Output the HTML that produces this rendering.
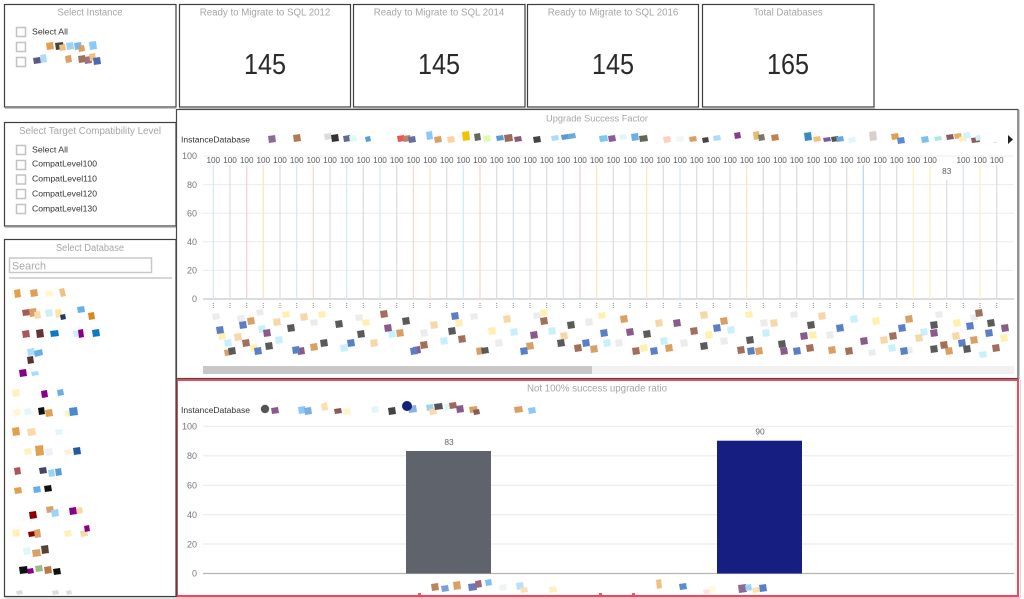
<!DOCTYPE html>
<html><head><meta charset="utf-8"><style>
html,body{margin:0;padding:0;background:#fff;}
svg{display:block;font-family:"Liberation Sans",Arial,sans-serif;}
</style></head><body>
<svg width="1024" height="599" viewBox="0 0 1024 599" xmlns="http://www.w3.org/2000/svg">
<rect width="1024" height="599" fill="#fff"/>

<!-- ===== Left panels ===== -->
<g fill="#fff" stroke="#3e3e3e" stroke-width="1.2">
<rect x="4.5" y="4.5" width="171.5" height="102.5"/>
<rect x="4.5" y="122.5" width="171.5" height="103.5"/>
<rect x="4.5" y="239.5" width="171.5" height="357"/>
</g>
<g stroke="#c4c4c4" stroke-width="1"><line x1="5" y1="108.5" x2="176" y2="108.5"/><line x1="5" y1="227.5" x2="176" y2="227.5"/><line x1="5" y1="598" x2="176" y2="598"/></g>

<text x="90" y="15.5" font-size="9.7" fill="#a6a6a6" text-anchor="middle" textLength="65" lengthAdjust="spacingAndGlyphs">Select Instance</text>
<g fill="#fff" stroke="#c2c2c2" stroke-width="1.5">
<rect x="16.5" y="27.5" width="9" height="9"/><rect x="16.5" y="42.5" width="9" height="9"/><rect x="16.5" y="57.5" width="9" height="9"/>
</g>
<text x="32" y="34.5" font-size="8.6" fill="#333" textLength="36" lengthAdjust="spacingAndGlyphs">Select All</text>

<text x="90" y="134" font-size="9.7" fill="#a6a6a6" text-anchor="middle" textLength="142" lengthAdjust="spacingAndGlyphs">Select Target Compatibility Level</text>
<g fill="#fff" stroke="#c2c2c2" stroke-width="1.5">
<rect x="16.5" y="145.5" width="9" height="9"/><rect x="16.5" y="160.5" width="9" height="9"/><rect x="16.5" y="175" width="9" height="9"/><rect x="16.5" y="189.5" width="9" height="9"/><rect x="16.5" y="204.5" width="9" height="9"/>
</g>
<g font-size="8.6" fill="#333">
<text x="32" y="152.3" textLength="36" lengthAdjust="spacingAndGlyphs">Select All</text>
<text x="32" y="166.7" textLength="65" lengthAdjust="spacingAndGlyphs">CompatLevel100</text>
<text x="32" y="181.3" textLength="65" lengthAdjust="spacingAndGlyphs">CompatLevel110</text>
<text x="32" y="196.3" textLength="65" lengthAdjust="spacingAndGlyphs">CompatLevel120</text>
<text x="32" y="211.7" textLength="65" lengthAdjust="spacingAndGlyphs">CompatLevel130</text>
</g>

<text x="90" y="251" font-size="9.7" fill="#a6a6a6" text-anchor="middle" textLength="68" lengthAdjust="spacingAndGlyphs">Select Database</text>
<rect x="9.5" y="258" width="142" height="14.5" fill="#fff" stroke="#c8c8c8" stroke-width="1.5"/>
<text x="12" y="269.5" font-size="11" fill="#a8a8a8" textLength="34" lengthAdjust="spacingAndGlyphs">Search</text>
<line x1="9" y1="278" x2="172" y2="278" stroke="#c8c8c8" stroke-width="1.5"/>

<!-- instance blobs -->
<g>
<path fill="#e0a050" d="M46 43l7-1 1 7-7 1z"/><path fill="#444" d="M55 43l8-1 1 7-8 1z"/><path fill="#f0c080" d="M59 45l6-1 1 6-6 1z"/><path fill="#9cd3f5" d="M66 43l7-1 1 7-7 1z"/><path fill="#7bb8f0" d="M74 43l7-1 1 7-7 1z"/><path fill="#d9a066" d="M78 46l6-1 1 6-6 1z"/><path fill="#8cc8f5" d="M89 42l7-1 1 8-7 1z"/>
<path fill="#5a5a8a" d="M33 58l7-1 1 6-7 1z"/><path fill="#acdcf8" d="M40 55l6-1 1 8-6 1z"/><path fill="#d9a066" d="M65 56l6-1 1 7-6 1z"/><path fill="#a0705a" d="M78 56l7-1 1 7-7 1z"/><path fill="#a07080" d="M84 57l7-1 1 7-7 1z"/><path fill="#f0c080" d="M89 54l6-1 1 7-6 1z"/><path fill="#4a6ab0" d="M93 58l7-1 1 7-7 1z"/>
</g>

<!-- database list blobs -->
<g>
<path fill="#e0a050" d="M14 290l6-1 1 8-6 1z"/><path fill="#e0a050" d="M30 290l7-1 1 7-7 1z"/><path fill="#fff6d0" d="M45 291l7-1 1 6-7 1z"/><path fill="#f0c080" d="M59 289l5-1 2 8-5 1z"/>
<path fill="#a85858" d="M22 310l8-1 1 6-8 1z"/><path fill="#d9a066" d="M29 309l7-1 1 8-7 1z"/><path fill="#fdd8a8" d="M34 312l6-1 1 7-6 1z"/><path fill="#cdeefa" d="M45 310l7-1 1 7-7 1z"/><path fill="#ffe3a0" d="M55 310l6-1 1 8-6 1z"/><path fill="#233a6a" d="M60 315l5-1 1 5-5 1z"/><path fill="#6aaee8" d="M77 307l7-1 1 6-7 1z"/><path fill="#d08a20" d="M88 313l6-1 1 7-6 1z"/>
<path fill="#a85858" d="M22 331l7-1 1 7-7 1z"/><path fill="#633" d="M36 330l7-1 1 8-7 1z"/><path fill="#0a7bc0" d="M50 331l8-1 1 6-8 1z"/><path fill="#cdeefa" d="M73 331l7-1 1 6-7 1z"/><path fill="#808" d="M78 330l5-1 1 8-5 1z"/><path fill="#0a7bc0" d="M92 330l7-1 1 7-7 1z"/>
<path fill="#acdcf8" d="M27 349l7-1 1 7-7 1z"/><path fill="#6aaee8" d="M34 351l8-2 1 6-8 2z"/><path fill="#533" d="M27 357l6-1 1 7-6 1z"/>
<path fill="#808" d="M19 370l7-1 1 7-7 1z"/><path fill="#acdcf8" d="M31 372l7-1 1 4-7 1z"/>
<path fill="#fff2b8" d="M12 390l7-1 1 7-7 1z"/><path fill="#808" d="M41 391l6-1 1 7-6 1z"/><path fill="#6aaee8" d="M57 390l6-1 1 6-6 1z"/>
<path fill="#fff6d0" d="M13 410l7-1 1 6-7 1z"/><path fill="#e0f6fb" d="M24 409l7-1 1 6-7 1z"/><path fill="#111" d="M38 408l6-1 1 7-6 1z"/><path fill="#e0a050" d="M45 410l7-1 1 7-7 1z"/><path fill="#fff2b8" d="M65 411l6-1 1 6-6 1z"/><path fill="#4a8ad0" d="M69 408l8-1 1 8-8 1z"/>
<path fill="#e0a050" d="M12 428l7-1 1 8-7 1z"/><path fill="#fdd8a8" d="M27 429l8-1 1 7-8 1z"/><path fill="#dff6fb" d="M55 430l7-1 1 5-7 1z"/>
<path fill="#fff2b8" d="M24 449l7-1 1 6-7 1z"/><path fill="#e0a050" d="M35 446l8-1 1 10-8 1z"/><path fill="#eef0f6" d="M45 449l7-1 1 7-7 1z"/><path fill="#feeedd" d="M64 450l7-1 1 5-7 1z"/><path fill="#235aa0" d="M73 448l7-1 1 7-7 1z"/>
<path fill="#a85858" d="M14 468l6-1 1 7-6 1z"/><path fill="#446" d="M39 468l7-1 1 6-7 1z"/><path fill="#9cd3f5" d="M48 470l6-1 1 7-6 1z"/><path fill="#5b9bd5" d="M55 469l6-1 1 7-6 1z"/>
<path fill="#e0a050" d="M14 488l7-1 1 6-7 1z"/><path fill="#6aaee8" d="M33 487l7-1 1 6-7 1z"/><path fill="#111" d="M44 486l7-1 1 6-7 1z"/>
<path fill="#800" d="M29 512l7-1 1 7-7 1z"/><path fill="#d9a066" d="M46 507l7-1 1 6-7 1z"/><path fill="#9cd3f5" d="M51 510l7-1 1 7-7 1z"/><path fill="#808" d="M69 508l7-1 1 7-7 1z"/><path fill="#f5d7a8" d="M76 508l6-1 1 6-6 1z"/>
<path fill="#fff2b8" d="M12 530l7-1 1 7-7 1z"/><path fill="#800" d="M28 532l7-1 1 5-7 1z"/><path fill="#d9a066" d="M34 530l6-1 1 8-6 1z"/><path fill="#fff2b8" d="M64 531l7-1 1 6-7 1z"/><path fill="#f5d7a8" d="M80 531l7-1 1 6-7 1z"/><path fill="#808" d="M84 526l5-1 1 6-5 1z"/>
<path fill="#dff6fb" d="M23 548l7-1 1 7-7 1z"/><path fill="#d9a066" d="M32 550l8-1 1 7-8 1z"/><path fill="#543" d="M41 546l7-1 1 8-7 1z"/>
<path fill="#111" d="M19 567l8-1 1 7-8 1z"/><path fill="#808" d="M27 569l6-1 1 5-6 1z"/><path fill="#9b8" d="M35 566l7-1 1 6-7 1z"/><path fill="#b87a4a" d="M44 567l7-1 1 7-7 1z"/><path fill="#111" d="M53 569l7-1 1 6-7 1z"/>
<path fill="#ddd" d="M16 591l6-1 1 4-6 1z"/><path fill="#ddd" d="M52 591l6-1 1 4-6 1z"/><path fill="#ddd" d="M66 591l5-1 1 4-5 1z"/>
</g>

<!-- ===== KPI cards ===== -->
<g fill="#fff" stroke="#3e3e3e" stroke-width="1.2">
<rect x="179.5" y="4.5" width="171" height="102.5"/>
<rect x="353.5" y="4.5" width="171.5" height="102.5"/>
<rect x="527.5" y="4.5" width="171" height="102.5"/>
<rect x="702.5" y="4.5" width="171.5" height="102.5"/>
</g>
<line x1="179" y1="108.5" x2="875" y2="108.5" stroke="#c4c4c4" stroke-width="1"/>
<g font-size="9.7" fill="#a6a6a6" text-anchor="middle">
<text x="265" y="15.5">Ready to Migrate to SQL 2012</text>
<text x="439" y="15.5">Ready to Migrate to SQL 2014</text>
<text x="613" y="15.5">Ready to Migrate to SQL 2016</text>
<text x="788" y="15.5">Total Databases</text>
</g>
<g font-size="29" fill="#2a2a2a" text-anchor="middle">
<text x="265" y="74" textLength="42" lengthAdjust="spacingAndGlyphs">145</text>
<text x="439" y="74" textLength="42" lengthAdjust="spacingAndGlyphs">145</text>
<text x="613" y="74" textLength="42" lengthAdjust="spacingAndGlyphs">145</text>
<text x="788" y="74" textLength="42" lengthAdjust="spacingAndGlyphs">165</text>
</g>

<!-- ===== Upgrade Success Factor chart ===== -->
<rect x="176.5" y="109.5" width="841.5" height="269" fill="#fff" stroke="#4a4a4a" stroke-width="1.2"/>
<line x1="1019.5" y1="110" x2="1019.5" y2="379" stroke="#c8c8c8" stroke-width="1"/>
<text x="597" y="121.5" font-size="9.6" fill="#a6a6a6" text-anchor="middle" textLength="102" lengthAdjust="spacingAndGlyphs">Upgrade Success Factor</text>
<text x="181" y="142.5" font-size="8.6" fill="#333" textLength="69" lengthAdjust="spacingAndGlyphs">InstanceDatabase</text>
<polygon points="1008,135 1013,139.5 1008,144" fill="#222"/>
<text x="993" y="143" font-size="7" fill="#999">..</text>
<!-- legend blobs top -->
<g>
<path fill="#8c6a9c" d="M268 136l7-1 1 7-7 1z"/><path fill="#b07a5a" d="M293 135l7-1 1 7-7 1z"/><path fill="#ddd" d="M324 134l7-1 1 6-7 1z"/><path fill="#333" d="M331 135l7-1 1 7-7 1z"/><path fill="#666a8a" d="M343 136l7-1 1 6-7 1z"/><path fill="#dff6fb" d="M349 136l7-1 1 6-7 1z"/><path fill="#5b9bd5" d="M365 137l5-1 1 5-5 1z"/><path fill="#e55" d="M397 136l7-1 1 6-7 1z"/><path fill="#b8866a" d="M403 136l7-1 1 6-7 1z"/><path fill="#6670a0" d="M408 137l7-1 1 6-7 1z"/><path fill="#8cc8f5" d="M426 132l6-1 1 8-6 1z"/><path fill="#d9a066" d="M434 137l7-1 1 6-7 1z"/><path fill="#fcd3a0" d="M447 137l7-1 1 6-7 1z"/><path fill="#f2c200" d="M462 132l7-1 1 9-7 1z"/><path fill="#666" d="M474 134l6-1 1 7-6 1z"/><path fill="#ddfbb0" d="M483 136l7-1 1 6-7 1z"/><path fill="#5b9bd5" d="M496 136l7-1 1 5-7 1z"/><path fill="#9a6a5a" d="M504 135l8-1 1 7-8 1z"/><path fill="#8a5a7a" d="M514 137l7-1 1 5-7 1z"/><path fill="#444" d="M533 137l7-1 1 6-7 1z"/><path fill="#acdcf8" d="M551 136l7-1 1 5-7 1z"/><path fill="#5b9bd5" d="M561 135l7-1 1 5-7 1z"/><path fill="#6aaad8" d="M568 134l7-1 1 5-7 1z"/>
<path fill="#7bc8f0" d="M599 136l8-1 1 6-8 1z"/><path fill="#8a5a9a" d="M608 136l7-1 1 6-7 1z"/><path fill="#dff6fb" d="M619 135l7-1 1 5-7 1z"/><path fill="#6aaee8" d="M631 134l7-1 1 7-7 1z"/><path fill="#665" d="M639 136l8-1 1 6-8 1z"/><path fill="#fdd0c0" d="M663 137l7-1 1 6-7 1z"/><path fill="#eef6fa" d="M676 137l7-1 1 5-7 1z"/><path fill="#d9a066" d="M689 137l7-1 1 5-7 1z"/><path fill="#444" d="M702 138l6-1 1 5-6 1z"/><path fill="#acdcf8" d="M713 136l7-1 1 5-7 1z"/><path fill="#8a3a8a" d="M734 133l6-1 1 6-6 1z"/><path fill="#e8b870" d="M753 132l6-1 1 8-6 1z"/><path fill="#776" d="M758 135l6-1 1 6-6 1z"/><path fill="#c08050" d="M771 135l7-1 1 6-7 1z"/><path fill="#3a8ac0" d="M804 133l7-1 1 8-7 1z"/><path fill="#f0c080" d="M813 137l7-1 1 5-7 1z"/><path fill="#7a5a9a" d="M823 138l7-1 1 4-7 1z"/><path fill="#555" d="M831 137l7-1 1 5-7 1z"/><path fill="#6aaad8" d="M836 137l7-1 1 5-7 1z"/><path fill="#dff6fb" d="M848 138l7-1 1 5-7 1z"/><path fill="#dcc" d="M869 132l7-1 1 9-7 1z"/><path fill="#e0a050" d="M891 134l7-1 1 6-7 1z"/><path fill="#5b8bd0" d="M897 138l7-1 1 6-7 1z"/><path fill="#7ac0f0" d="M921 137l7-1 1 6-7 1z"/><path fill="#aee8e0" d="M934 137l7-1 1 4-7 1z"/><path fill="#8a5a6a" d="M946 135l7-1 1 5-7 1z"/><path fill="#e0b060" d="M954 134l7-1 1 5-7 1z"/><path fill="#fff0c0" d="M959 137l7-1 1 5-7 1z"/><path fill="#cff4fb" d="M963 133l7-1 1 6-7 1z"/><path fill="#8a5a5a" d="M971 138l8-1 1 5-8 1z"/><path fill="#cef0fa" d="M975 136l5-1 1 5-5 1z"/>
</g>
<!-- gridlines -->
<g stroke="#ececec" stroke-width="1">
<line x1="203" y1="156" x2="1014" y2="156"/><line x1="203" y1="184.6" x2="1014" y2="184.6"/><line x1="203" y1="213.2" x2="1014" y2="213.2"/><line x1="203" y1="241.8" x2="1014" y2="241.8"/><line x1="203" y1="270.4" x2="1014" y2="270.4"/>
</g>
<line x1="203" y1="299" x2="1014" y2="299" stroke="#c8c8c8" stroke-width="1.2"/>
<g font-size="9" fill="#777" text-anchor="end">
<text x="197" y="159">100</text><text x="197" y="188">80</text><text x="197" y="216.5">60</text><text x="197" y="245">40</text><text x="197" y="273.5">20</text><text x="197" y="302">0</text>
</g>
<!-- thin bars -->
<g stroke-width="1.2">
<line x1="213.3" y1="165" x2="213.3" y2="299" stroke="#cfe9f4"/>
<line x1="230" y1="165" x2="230" y2="299" stroke="#d9dde2"/>
<line x1="246.7" y1="165" x2="246.7" y2="299" stroke="#f3cdd3"/>
<line x1="263.3" y1="165" x2="263.3" y2="299" stroke="#fbe4c0"/>
<line x1="280" y1="165" x2="280" y2="299" stroke="#d9dde2"/>
<line x1="296.7" y1="165" x2="296.7" y2="299" stroke="#cfe9f4"/>
<line x1="313.3" y1="165" x2="313.3" y2="299" stroke="#f8d6c8"/>
<line x1="330" y1="165" x2="330" y2="299" stroke="#d9dde2"/>
<line x1="346.7" y1="165" x2="346.7" y2="299" stroke="#cfe9f4"/>
<line x1="363.3" y1="165" x2="363.3" y2="299" stroke="#d9dde2"/>
<line x1="380" y1="165" x2="380" y2="299" stroke="#d3ecef"/>
<line x1="396.7" y1="165" x2="396.7" y2="299" stroke="#d9dde2"/>
<line x1="413.3" y1="165" x2="413.3" y2="299" stroke="#f8d6c8"/>
<line x1="430" y1="165" x2="430" y2="299" stroke="#fbe4c0"/>
<line x1="446.7" y1="165" x2="446.7" y2="299" stroke="#d9dde2"/>
<line x1="463.3" y1="165" x2="463.3" y2="299" stroke="#cfe9f4"/>
<line x1="480" y1="165" x2="480" y2="299" stroke="#f8d6c8"/>
<line x1="496.7" y1="165" x2="496.7" y2="299" stroke="#d9dde2"/>
<line x1="513.3" y1="165" x2="513.3" y2="299" stroke="#cce0ee"/>
<line x1="530" y1="165" x2="530" y2="299" stroke="#d9dde2"/>
<line x1="546.7" y1="165" x2="546.7" y2="299" stroke="#d9dde2"/>
<line x1="563.3" y1="165" x2="563.3" y2="299" stroke="#cfe9f4"/>
<line x1="580" y1="165" x2="580" y2="299" stroke="#f3cdd3"/>
<line x1="596.7" y1="165" x2="596.7" y2="299" stroke="#fbe4c0"/>
<line x1="613.3" y1="165" x2="613.3" y2="299" stroke="#d9dde2"/>
<line x1="630" y1="165" x2="630" y2="299" stroke="#d9dde2"/>
<line x1="646.7" y1="165" x2="646.7" y2="299" stroke="#fbe4c0"/>
<line x1="663.3" y1="165" x2="663.3" y2="299" stroke="#d9dde2"/>
<line x1="680" y1="165" x2="680" y2="299" stroke="#cfe9f4"/>
<line x1="696.7" y1="165" x2="696.7" y2="299" stroke="#d9dde2"/>
<line x1="713.3" y1="165" x2="713.3" y2="299" stroke="#d9dde2"/>
<line x1="730" y1="165" x2="730" y2="299" stroke="#d9dde2"/>
<line x1="746.7" y1="165" x2="746.7" y2="299" stroke="#fbe4c0"/>
<line x1="763.3" y1="165" x2="763.3" y2="299" stroke="#d9dde2"/>
<line x1="780" y1="165" x2="780" y2="299" stroke="#d9dde2"/>
<line x1="796.7" y1="165" x2="796.7" y2="299" stroke="#d9dde2"/>
<line x1="813.3" y1="165" x2="813.3" y2="299" stroke="#d9dde2"/>
<line x1="830" y1="165" x2="830" y2="299" stroke="#d9dde2"/>
<line x1="846.7" y1="165" x2="846.7" y2="299" stroke="#d9dde2"/>
<line x1="863.3" y1="165" x2="863.3" y2="299" stroke="#b8d4f0"/>
<line x1="880" y1="165" x2="880" y2="299" stroke="#d9dde2"/>
<line x1="896.7" y1="165" x2="896.7" y2="299" stroke="#d9dde2"/>
<line x1="913.3" y1="165" x2="913.3" y2="299" stroke="#fbeebb"/>
<line x1="930" y1="165" x2="930" y2="299" stroke="#fbeebb"/>
<line x1="946.7" y1="180" x2="946.7" y2="299" stroke="#d9dde2"/>
<line x1="963.3" y1="165" x2="963.3" y2="299" stroke="#cfe9f4"/>
<line x1="980" y1="165" x2="980" y2="299" stroke="#fbeebb"/>
<line x1="996.7" y1="165" x2="996.7" y2="299" stroke="#d9dde2"/>
</g>
<!-- data labels -->
<g font-size="8.2" fill="#5a5a5a" text-anchor="middle">
<text x="213.3" y="163">100</text><text x="230" y="163">100</text><text x="246.7" y="163">100</text><text x="263.3" y="163">100</text><text x="280" y="163">100</text><text x="296.7" y="163">100</text><text x="313.3" y="163">100</text><text x="330" y="163">100</text><text x="346.7" y="163">100</text><text x="363.3" y="163">100</text><text x="380" y="163">100</text><text x="396.7" y="163">100</text><text x="413.3" y="163">100</text><text x="430" y="163">100</text><text x="446.7" y="163">100</text><text x="463.3" y="163">100</text><text x="480" y="163">100</text><text x="496.7" y="163">100</text><text x="513.3" y="163">100</text><text x="530" y="163">100</text><text x="546.7" y="163">100</text><text x="563.3" y="163">100</text><text x="580" y="163">100</text><text x="596.7" y="163">100</text><text x="613.3" y="163">100</text><text x="630" y="163">100</text><text x="646.7" y="163">100</text><text x="663.3" y="163">100</text><text x="680" y="163">100</text><text x="696.7" y="163">100</text><text x="713.3" y="163">100</text><text x="730" y="163">100</text><text x="746.7" y="163">100</text><text x="763.3" y="163">100</text><text x="780" y="163">100</text><text x="796.7" y="163">100</text><text x="813.3" y="163">100</text><text x="830" y="163">100</text><text x="846.7" y="163">100</text><text x="863.3" y="163">100</text><text x="880" y="163">100</text><text x="896.7" y="163">100</text><text x="913.3" y="163">100</text><text x="930" y="163">100</text><text x="946.7" y="174">83</text><text x="963.3" y="163">100</text><text x="980" y="163">100</text><text x="996.7" y="163">100</text>
</g>
<!-- tick marks -->
<g stroke="#8a8a8a" stroke-width="1" stroke-dasharray="1 1">
<path d="M213.3 303v6M230 303v6M246.7 303v6M263.3 303v6M280 303v6M296.7 303v6M313.3 303v6M330 303v6M346.7 303v6M363.3 303v6M380 303v6M396.7 303v6M413.3 303v6M430 303v6M446.7 303v6M463.3 303v6M480 303v6M496.7 303v6M513.3 303v6M530 303v6M546.7 303v6M563.3 303v6M580 303v6M596.7 303v6M613.3 303v6M630 303v6M646.7 303v6M663.3 303v6M680 303v6M696.7 303v6M713.3 303v6M730 303v6M746.7 303v6M763.3 303v6M780 303v6M796.7 303v6M813.3 303v6M830 303v6M846.7 303v6M863.3 303v6M880 303v6M896.7 303v6M913.3 303v6M930 303v6M946.7 303v6M963.3 303v6M980 303v6M996.7 303v6"/>
</g>
<!-- category label blobs -->
<path fill="#ececec" d="M212 314l7-1 1 6-7 1zM237 316l7-1 1 6-7 1zM256 310l7-1 1 6-7 1zM310 320l7-1 1 6-7 1zM355 315l7-1 1 6-7 1zM420 330l7-1 1 7-7 1zM470 314l7-1 1 6-7 1zM495 340l7-1 1 7-7 1zM533 313l7-1 1 6-7 1zM585 319l7-1 1 7-7 1zM615 340l7-1 1 7-7 1zM680 340l7-1 1 7-7 1zM720 338l7-1 1 7-7 1zM790 312l7-1 1 6-7 1zM826 332l7-1 1 7-7 1zM868 350l7-1 1 6-7 1zM935 312l7-1 1 6-7 1zM970 315l7-1 1 6-7 1zM905 348l7-1 1 6-7 1zM760 320l7-1 1 7-7 1z"/>
<path fill="#fff0b0" d="M218 333l7-1 1 7-7 1zM250 345l7-1 1 7-7 1zM282 312l7-1 1 6-7 1zM318 312l7-1 1 6-7 1zM362 320l7-1 1 6-7 1zM455 320l7-1 1 7-7 1zM488 328l7-1 1 7-7 1zM540 310l7-1 1 6-7 1zM598 313l7-1 1 6-7 1zM640 345l7-1 1 7-7 1zM705 332l7-1 1 7-7 1zM745 312l7-1 1 6-7 1zM809 332l7-1 1 7-7 1zM872 318l7-1 1 7-7 1zM953 320l7-1 1 7-7 1zM1000 335l7-1 1 7-7 1z"/>
<path fill="#c8f0fb" d="M224 340l7-1 1 7-7 1zM258 326l7-1 1 7-7 1zM275 337l7-1 1 7-7 1zM340 345l7-1 1 7-7 1zM388 331l7-1 1 7-7 1zM440 338l7-1 1 7-7 1zM510 329l7-1 1 7-7 1zM548 328l7-1 1 7-7 1zM603 340l7-1 1 7-7 1zM660 338l7-1 1 7-7 1zM727 327l7-1 1 7-7 1zM762 330l7-1 1 7-7 1zM850 316l7-1 1 7-7 1zM888 345l7-1 1 7-7 1zM920 329l7-1 1 7-7 1zM979 352l7-1 1 6-7 1z"/>
<path fill="#f5d7a8" d="M234 334l7-1 1 7-7 1zM273 319l7-1 1 7-7 1zM300 314l7-1 1 7-7 1zM370 340l7-1 1 7-7 1zM430 322l7-1 1 7-7 1zM503 316l7-1 1 7-7 1zM560 333l7-1 1 7-7 1zM655 320l7-1 1 7-7 1zM700 312l7-1 1 7-7 1zM770 320l7-1 1 7-7 1zM818 313l7-1 1 7-7 1zM880 337l7-1 1 7-7 1zM915 335l7-1 1 7-7 1zM952 333l7-1 1 7-7 1z"/>
<path fill="#d9a066" d="M224 350l7-1 1 6-7 1zM247 318l7-1 1 7-7 1zM310 344l7-1 1 7-7 1zM396 330l7-1 1 7-7 1zM476 348l7-1 1 7-7 1zM526 343l7-1 1 7-7 1zM590 346l7-1 1 7-7 1zM620 316l7-1 1 7-7 1zM665 345l7-1 1 7-7 1zM720 318l7-1 1 7-7 1zM755 348l7-1 1 7-7 1zM828 347l7-1 1 7-7 1zM905 316l7-1 1 7-7 1zM945 348l7-1 1 7-7 1zM970 337l7-1 1 7-7 1z"/>
<path fill="#a0705a" d="M242 340l7-1 1 7-7 1zM380 311l7-1 1 7-7 1zM420 342l7-1 1 7-7 1zM458 336l7-1 1 7-7 1zM540 318l7-1 1 7-7 1zM574 345l7-1 1 7-7 1zM632 348l7-1 1 7-7 1zM690 328l7-1 1 7-7 1zM737 347l7-1 1 7-7 1zM806 345l7-1 1 7-7 1zM845 348l7-1 1 7-7 1zM889 333l7-1 1 7-7 1zM940 342l7-1 1 7-7 1zM975 310l7-1 1 7-7 1zM992 345l7-1 1 7-7 1z"/>
<path fill="#8a5a8a" d="M263 330l7-1 1 7-7 1zM297 348l7-1 1 7-7 1zM384 325l7-1 1 7-7 1zM413 347l7-1 1 7-7 1zM530 332l7-1 1 7-7 1zM626 329l7-1 1 7-7 1zM673 320l7-1 1 7-7 1zM780 348l7-1 1 7-7 1zM860 338l7-1 1 7-7 1zM930 330l7-1 1 7-7 1zM1001 325l7-1 1 7-7 1zM800 333l7-1 1 7-7 1z"/>
<path fill="#5b7fc4" d="M216 327l7-1 1 7-7 1zM239 322l7-1 1 7-7 1zM254 348l7-1 1 7-7 1zM292 347l7-1 1 7-7 1zM347 340l7-1 1 7-7 1zM410 348l7-1 1 7-7 1zM451 313l7-1 1 7-7 1zM520 348l7-1 1 7-7 1zM582 340l7-1 1 7-7 1zM600 330l7-1 1 7-7 1zM650 348l7-1 1 7-7 1zM713 325l7-1 1 7-7 1zM747 348l7-1 1 7-7 1zM793 348l7-1 1 7-7 1zM836 325l7-1 1 7-7 1zM898 325l7-1 1 7-7 1zM958 340l7-1 1 7-7 1zM966 323l7-1 1 7-7 1zM985 330l7-1 1 7-7 1zM900 348l7-1 1 7-7 1z"/>
<path fill="#5a5a5a" d="M228 348l7-1 1 7-7 1zM265 343l7-1 1 7-7 1zM287 325l7-1 1 7-7 1zM320 340l7-1 1 7-7 1zM335 321l7-1 1 7-7 1zM357 331l7-1 1 7-7 1zM402 318l7-1 1 7-7 1zM448 328l7-1 1 7-7 1zM481 348l7-1 1 6-7 1zM557 340l7-1 1 7-7 1zM567 322l7-1 1 7-7 1zM643 331l7-1 1 7-7 1zM700 343l7-1 1 7-7 1zM746 337l7-1 1 7-7 1zM778 341l7-1 1 7-7 1zM807 322l7-1 1 7-7 1zM930 322l7-1 1 7-7 1zM963 346l7-1 1 7-7 1zM987 320l7-1 1 7-7 1zM930 346l7-1 1 7-7 1z"/>
<!-- scrollbar -->
<rect x="203" y="366" width="811" height="8" fill="#f1f1f1"/>
<rect x="203" y="366" width="389" height="8" fill="#c8c8c8"/>

<!-- ===== Not 100% success chart ===== -->
<rect x="177" y="380" width="841" height="216" fill="#fff" stroke="#f0475c" stroke-width="2"/>
<line x1="176.5" y1="379" x2="176.5" y2="597" stroke="#4a4a4a" stroke-width="1.2"/>
<line x1="176" y1="598" x2="1020" y2="598" stroke="#f5b0b8" stroke-width="1.5"/>
<line x1="1020.5" y1="380" x2="1020.5" y2="598" stroke="#d8d8d8" stroke-width="1"/>
<text x="597" y="391.5" font-size="9.7" fill="#a6a6a6" text-anchor="middle" textLength="140" lengthAdjust="spacingAndGlyphs">Not 100% success upgrade ratio</text>
<text x="181" y="413" font-size="8.6" fill="#333" textLength="69" lengthAdjust="spacingAndGlyphs">InstanceDatabase</text>
<!-- legend blobs bottom -->
<g>
<circle cx="265" cy="409" r="4.2" fill="#555"/><path fill="#8a5a8a" d="M271 408l7-1 1 6-7 1z"/><path fill="#8cc8f5" d="M298 407l7-1 1 7-7 1z"/><path fill="#7bb0e0" d="M304 408l7-1 1 7-7 1z"/><path fill="#fde0b0" d="M321 404l6-2 1 8-6 1z"/><path fill="#8a5a5a" d="M334 409l7-1 1 5-7 1z"/><path fill="#fff3c8" d="M343 409l7-1 1 6-7 1z"/><path fill="#dff6fb" d="M371 407l7-1 1 6-7 1z"/><path fill="#444" d="M388 408l7-1 1 7-7 1z"/><path fill="#8ab0e0" d="M408 406l8-1 1 7-8 1z"/><circle cx="407" cy="406" r="5" fill="#14217a"/><path fill="#9cd3f5" d="M426 405l7-1 1 6-7 1z"/><path fill="#fdd8a8" d="M429 409l7-1 1 6-7 1z"/><path fill="#555" d="M434 404l8-1 1 6-8 1z"/><path fill="#dff6fb" d="M444 404l7-1 1 6-7 1z"/><path fill="#9a6a5a" d="M449 403l7-1 1 6-7 1z"/><path fill="#8a5a8a" d="M456 406l7-1 1 7-7 1z"/><path fill="#d9a066" d="M469 407l8-1 1 6-8 1z"/><path fill="#8a5a5a" d="M473 410l6-1 1 5-6 1z"/><path fill="#d9a066" d="M514 407l8-1 1 6-8 1z"/><path fill="#8cc8f5" d="M528 408l7-1 1 6-7 1z"/>
</g>
<!-- gridlines bottom -->
<g stroke="#ececec" stroke-width="1.2">
<line x1="203" y1="426.3" x2="1014" y2="426.3"/><line x1="203" y1="455.8" x2="1014" y2="455.8"/><line x1="203" y1="485.3" x2="1014" y2="485.3"/><line x1="203" y1="514.7" x2="1014" y2="514.7"/><line x1="203" y1="544" x2="1014" y2="544"/>
</g>
<line x1="203" y1="573.5" x2="1014" y2="573.5" stroke="#b4b4b4" stroke-width="1.2"/>
<g font-size="9" fill="#777" text-anchor="end">
<text x="197" y="429.5">100</text><text x="197" y="459">80</text><text x="197" y="488.5">60</text><text x="197" y="518">40</text><text x="197" y="547.3">20</text><text x="197" y="576.7">0</text>
</g>
<rect x="406" y="451" width="85" height="122.5" fill="#5f636b"/>
<rect x="717" y="440.7" width="85" height="132.8" fill="#161e82"/>
<g font-size="8.4" fill="#666" text-anchor="middle">
<text x="449" y="445">83</text><text x="760" y="434.5">90</text>
</g>
<!-- below-axis blobs bottom -->
<g>
<path fill="#b8865a" d="M431 584l7-1 1 7-7 1z"/><path fill="#7aa0d8" d="M441 586l7-1 1 6-7 1z"/><path fill="#d9a066" d="M453 582l7-1 1 8-7 1z"/><path fill="#6a7ab8" d="M468 584l8-1 1 7-8 1z"/><path fill="#9a6a7a" d="M475 581l6-1 1 7-6 1z"/><path fill="#7ac0f0" d="M485 580l6-1 1 6-6 1z"/><path fill="#eef4f8" d="M499 585l7-1 1 6-7 1z"/><path fill="#b8e0f8" d="M516 583l7-1 1 7-7 1z"/><path fill="#fde0b0" d="M520 588l7-1 1 5-7 1z"/><path fill="#fff0c0" d="M549 587l7-1 1 6-7 1z"/>
<path fill="#f0c080" d="M656 580l5-1 1 9-5 1z"/><path fill="#5b8bd0" d="M679 584l7-1 1 6-7 1z"/><path fill="#fde0e0" d="M703 590l7-1 1 4-7 1z"/><path fill="#fffae0" d="M709 586l6-1 1 7-6 1z"/><path fill="#8a6a9a" d="M738 585l8-1 1 8-8 1z"/><path fill="#9cd3f5" d="M745 585l6-1 1 6-6 1z"/><path fill="#fde0b0" d="M752 588l7-1 1 5-7 1z"/><path fill="#5b7fc4" d="M759 585l7-1 1 7-7 1z"/>
<path fill="#f55" d="M599 593h3v2h-3zM632 593h3v2h-3zM418 593h3v2h-3z"/>
</g>
</svg>
</body></html>
